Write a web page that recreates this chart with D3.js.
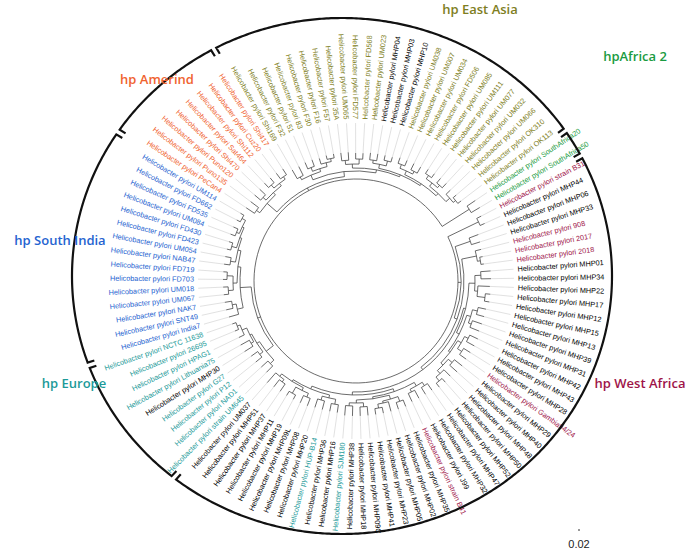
<!DOCTYPE html>
<html>
<head>
<meta charset="utf-8">
<script src="https://cdn.jsdelivr.net/npm/d3@7"></script>
<style>
  body { margin: 0; background: #fff; }
  svg { display: block; }
  .leaf { font-family: "Liberation Sans", Arial, sans-serif; font-size: 7.3px; }
  .grp { font-family: "Open Sans", "Lato", sans-serif; font-size: 13px; font-weight: 600; }
</style>
</head>
<body>
<div id="tree"></div>
<script>
var width = 696, height = 558;

// tree data, one newick piece per clade (branch lengths = distance)
var westAfricaA = "(strain_B31:0.05,MHP44:0.05)";
var westAfricaB = "(((MHP01:0.10,MHP34:0.10):0.06,(MHP22:0.12,(MHP17:0.05,MHP12:0.05):0.08):0.03):0.06,(((MHP15:0.08,MHP13:0.08):0.05,(MHP39:0.10,MHP31:0.10):0.03):0.04,(((MHP42:0.09,MHP43:0.09):0.04,(MHP28:0.08,Gambia94/24:0.08):0.05):0.04,((MHP29:0.10,MHP40:0.10):0.05,(MHP48:0.09,(MHP50:0.05,MHP52:0.05):0.05):0.04):0.03):0.02):0.03)";
var westAfricaC = "((((MHP47:0.08,MHP32:0.08):0.04,(J99:0.09,strain_B41:0.09):0.03):0.04,(((MHP35:0.07,MHP02:0.07):0.05,(MHP05:0.10,(MHP23:0.06,MHP41:0.06):0.04):0.02):0.04,((MHP09C:0.09,MHP18:0.09):0.04,(MHP38:0.10,SJM180:0.10):0.03):0.03):0.02):0.03,(((MHP16:0.08,MHP36:0.08):0.05,(HUP-B14:0.09,MHP20:0.09):0.04):0.03,(((MHP08:0.08,MHP09L:0.08):0.04,(MHP19:0.05,MHP11:0.05):0.07):0.03,((MHP37:0.09,MHP51:0.09):0.03,UM037:0.13):0.03):0.02):0.03)";
var westAfricaRest = "((MHP06:0.10,MHP33:0.09):0.16,((908:0.06,(2017:0.03,2018:0.03):0.03):0.15,(" + westAfricaB + ":0.02," + westAfricaC + ":0.03):0.03):0.03)";
var europe = "((strain_UM645:0.09,NAD1:0.09):0.05,((P12:0.08,G27:0.08):0.04,((MHP30:0.10,Lithuania75:0.10):0.03,(HPAG1:0.06,(26695:0.04,NCTC_11638:0.04):0.03):0.05):0.02):0.03)";
var southIndia = "((India7:0.10,(SNT49:0.07,NAK7:0.07):0.04):0.06,(((UM067:0.05,UM018:0.05):0.05,(FD703:0.04,FD719:0.04):0.06):0.04,((NAB47:0.06,UM054:0.06):0.05,((FD423:0.04,FD430:0.04):0.05,((UM084:0.05,FD535:0.05):0.03,(FD662:0.04,UM114:0.04):0.04):0.02):0.02):0.03):0.03)";
var amerind = "((PeCan4:0.10,Puno135:0.10):0.04,((Puno120:0.08,Shi470:0.08):0.04,((Sat464:0.06,Shi112:0.06):0.04,(Cuz20:0.07,Shi417:0.07):0.03):0.03):0.03)";
var eastAsia = "(((Shi169:0.10,F32:0.10):0.03,((51:0.07,83:0.07):0.04,(F30:0.06,(F16:0.04,F57:0.04):0.03):0.04):0.03):0.05,(((35A:0.08,UM065:0.08):0.04,(FD577:0.06,FD568:0.06):0.05):0.04,(((UM023:0.07,MHP04:0.07):0.03,(MHP03:0.05,MHP10:0.05):0.05):0.04,(((UM038:0.06,UM007:0.06):0.04,(UM034:0.07,FD506:0.07):0.03):0.04,(((UM085:0.05,UM111:0.05):0.04,(UM077:0.06,UM032:0.06):0.03):0.04,(UM066:0.06,(OK310:0.04,OK113:0.04):0.03):0.05):0.03):0.02):0.02):0.03)";
var africa2 = "(SouthAfrica20:0.10,SouthAfrica50:0.10)";

var treeNewick = "(" + westAfricaA + ":0.34," + westAfricaRest + ":0.03," +
  "(" + europe + ":0.09," + southIndia + ":0.11):0.03," +
  "(" + amerind + ":0.13," + eastAsia + ":0.05):0.03," + africa2 + ":0.32);";

// label colour groups
var redNames = ["strain B31", "908", "2017", "2018", "Gambia94/24", "strain B41"];
var tealNames = ["SJM180", "HUP-B14", "strain UM645", "NAD1", "P12", "G27", "Lithuania75", "HPAG1", "26695", "NCTC 11638"];
var greenNames = ["SouthAfrica20", "SouthAfrica50"];
var blueNames = ["India7", "SNT49", "NAK7", "UM067", "UM018", "FD703", "FD719", "NAB47", "UM054", "FD423", "FD430", "UM084", "FD535", "FD662", "UM114"];
var orangeNames = ["PeCan4", "Puno135", "Puno120", "Shi470", "Sat464", "Shi112", "Cuz20", "Shi417"];
var oliveNames = ["Shi169", "F32", "51", "83", "F30", "F16", "F57", "35A", "UM065", "FD577", "FD568", "UM023", "UM038", "UM007", "UM034", "FD506", "UM085", "UM111", "UM077", "UM032", "UM066", "OK310", "OK113"];

// clade brackets: name, first leaf, last leaf
var cladeNames = ["hp East Asia", "hpAfrica 2", "hp West Africa", "hp Europe", "hp South India", "hp Amerind"];
var cladeFirst = ["Shi169", "SouthAfrica20", "strain B31", "strain UM645", "India7", "PeCan4"];
var cladeLast = ["OK113", "SouthAfrica50", "UM037", "NCTC 11638", "UM114", "Shi417"];

var scaleBarValue = 0.02;

var colors = {
  red: "#9e1449", teal: "#1c9a99", green: "#1a9b42", blue: "#2563d0",
  orange: "#f0632f", olive: "#7e7e22", black: "#000"
};
var cladeColors = [colors.olive, colors.green, colors.red, colors.teal, colors.blue, colors.orange];
var cladeLabelPos = [[480, 14], [635, 61], [640, 388], [74, 388], [60, 245], [157, 84]];

function parseNewick(s) {
  var i = 0;
  function node() {
    var n = {};
    if (s[i] === "(") {
      i++;
      n.children = [];
      do { n.children.push(node()); } while (s[i++] === ",");
    }
    var name = "";
    while (i < s.length && ":,();".indexOf(s[i]) < 0) name += s[i++];
    n.name = name.replace(/_/g, " ");
    if (s[i] === ":") {
      i++;
      var num = "";
      while (i < s.length && ",();".indexOf(s[i]) < 0) num += s[i++];
      n.length = +num;
    }
    return n;
  }
  return node();
}

var cx = 356, cy = 281;
var labelRadius = 162, leaderEnd = 158;

var svg = d3.select("#tree").append("svg")
  .attr("width", width).attr("height", height);

var root = d3.hierarchy(parseNewick(treeNewick));
root.eachBefore(function(d) { d.dist = d.parent ? d.parent.dist + (d.data.length || 0) : 0; });

var leaves = root.leaves();
var angle = d3.scaleLinear().domain([0, leaves.length]).range([62.6, 422.6]);
var radius = d3.scaleLinear().domain([0, 1]).range([102, 202]);

leaves.forEach(function(d, i) { d.a = angle(i); });
root.eachAfter(function(d) {
  if (d.children) d.a = (d.children[0].a + d.children[d.children.length - 1].a) / 2;
  d.r = radius(d.dist);
});

function pt(aDeg, r) {
  var a = aDeg * Math.PI / 180;
  return [cx + r * Math.sin(a), cy - r * Math.cos(a)];
}

// branches
var p = d3.path();
root.descendants().forEach(function(d) {
  if (!d.children) return;
  var a0 = d.children[0].a, a1 = d.children[d.children.length - 1].a;
  var s = pt(a0, d.r);
  p.moveTo(s[0], s[1]);
  p.arc(cx, cy, d.r, (a0 - 90) * Math.PI / 180, (a1 - 90) * Math.PI / 180);
  d.children.forEach(function(c) {
    var u = pt(c.a, d.r), v = pt(c.a, c.r);
    p.moveTo(u[0], u[1]);
    p.lineTo(v[0], v[1]);
  });
});
svg.append("path").attr("d", p.toString())
  .attr("fill", "none").attr("stroke", "#3a3a3a").attr("stroke-width", 0.75);

// leader lines
svg.append("g").selectAll("line").data(leaves).enter().append("line")
  .attr("x1", d => pt(d.a, d.r)[0]).attr("y1", d => pt(d.a, d.r)[1])
  .attr("x2", d => pt(d.a, leaderEnd)[0]).attr("y2", d => pt(d.a, leaderEnd)[1])
  .attr("stroke", "#cccccc").attr("stroke-width", 0.6);

function leafColor(name) {
  if (redNames.includes(name)) return colors.red;
  if (tealNames.includes(name)) return colors.teal;
  if (greenNames.includes(name)) return colors.green;
  if (blueNames.includes(name)) return colors.blue;
  if (orangeNames.includes(name)) return colors.orange;
  if (oliveNames.includes(name)) return colors.olive;
  return colors.black;
}

svg.append("g").selectAll("text").data(leaves).enter().append("text")
  .attr("class", "leaf")
  .attr("transform", function(d) {
    var a = ((d.a % 360) + 360) % 360;
    var flip = a > 180;
    return "translate(" + cx + "," + cy + ")rotate(" + (a - 90) + ")translate(" + labelRadius + ",0)" + (flip ? "rotate(180)" : "");
  })
  .attr("text-anchor", function(d) { var a = ((d.a % 360) + 360) % 360; return a > 180 ? "end" : "start"; })
  .attr("dy", "0.35em")
  .attr("fill", d => leafColor(d.data.name))
  .text(d => "Helicobacter pylori " + d.data.name);

// clade brackets (hand drawn ellipse around the tree)
var ex = 342, ey = 276, rx = 270, ry = 258;
function bracketPoint(aDeg) {
  var a = aDeg * Math.PI / 180, ux = Math.sin(a), uy = -Math.cos(a);
  var dx = cx - ex, dy = cy - ey;
  var A = ux * ux / (rx * rx) + uy * uy / (ry * ry);
  var B = 2 * (dx * ux / (rx * rx) + dy * uy / (ry * ry));
  var C = dx * dx / (rx * rx) + dy * dy / (ry * ry) - 1;
  var t = (-B + Math.sqrt(B * B - 4 * A * C)) / (2 * A);
  return [cx + t * ux, cy + t * uy, ux, uy];
}
var step = 360 / leaves.length;
var byName = {};
leaves.forEach(function(d) { byName[d.data.name] = d; });
var line = d3.line();

cladeNames.forEach(function(name, k) {
  var a0 = byName[cladeFirst[k]].a - step * 0.32;
  var a1 = byName[cladeLast[k]].a + step * 0.32;
  var pts = d3.range(a0, a1, 0.5).concat([a1]).map(bracketPoint);
  var s = pts[0], e = pts[pts.length - 1];
  var all = [[s[0] - 7 * s[2], s[1] - 7 * s[3]]].concat(pts.map(q => [q[0], q[1]]))
    .concat([[e[0] - 7 * e[2], e[1] - 7 * e[3]]]);
  svg.append("path").attr("d", line(all))
    .attr("fill", "none").attr("stroke", "#111").attr("stroke-width", 2.2);
  svg.append("text").attr("class", "grp")
    .attr("x", cladeLabelPos[k][0]).attr("y", cladeLabelPos[k][1])
    .attr("text-anchor", "middle")
    .attr("fill", cladeColors[k])
    .text(name);
});

// scale bar
var sbLen = radius(scaleBarValue) - radius(0);
svg.append("line")
  .attr("x1", 578).attr("x2", 578 + sbLen).attr("y1", 530).attr("y2", 530)
  .attr("stroke", "#333").attr("stroke-width", 1);
svg.append("text")
  .attr("x", 579).attr("y", 548).attr("text-anchor", "middle")
  .style("font-family", "Liberation Sans, Arial, sans-serif").style("font-size", "11px")
  .attr("fill", "#222")
  .text(scaleBarValue);
</script>
</body>
</html>
